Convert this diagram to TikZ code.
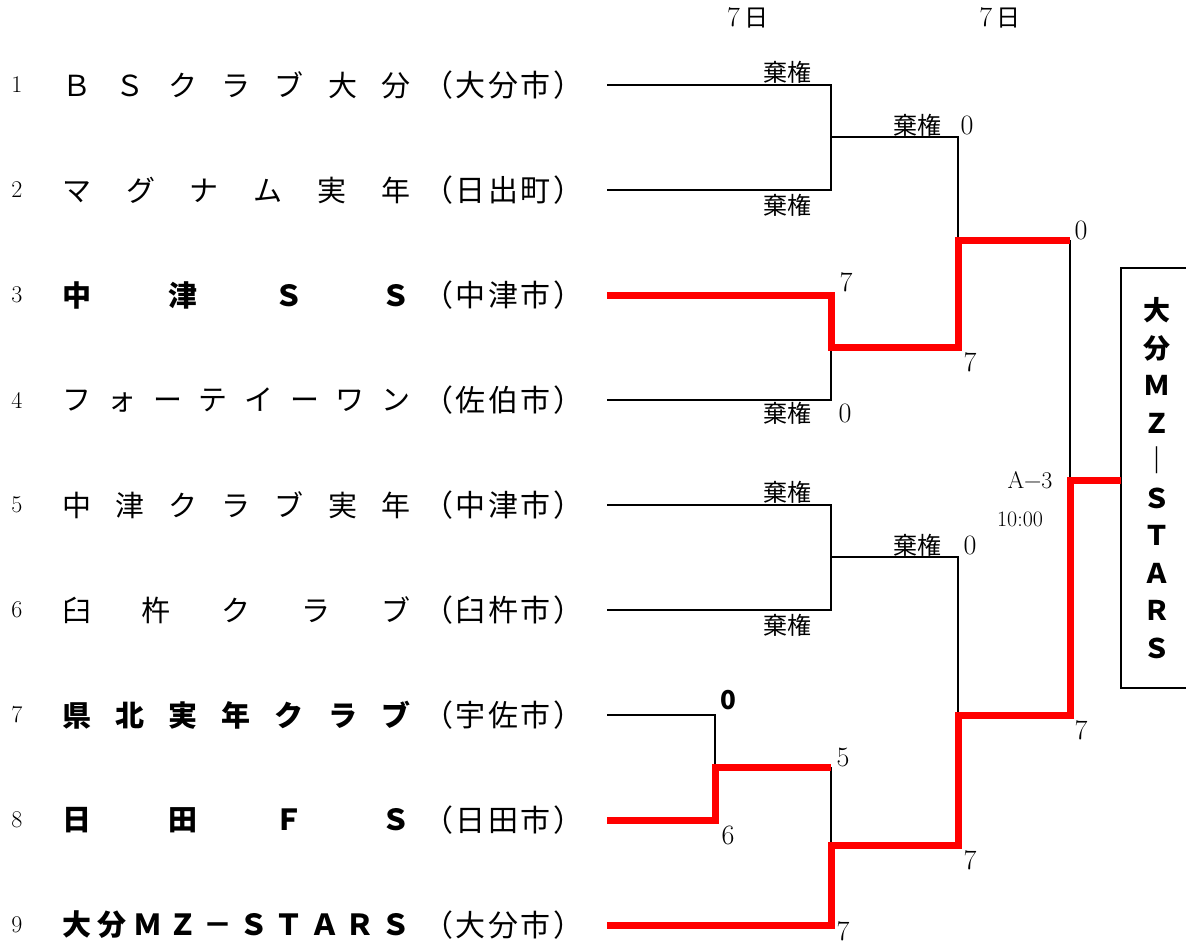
\documentclass[tikz,border=0pt]{standalone}
\usepackage{fontspec}
\newfontfamily\jp{Noto Sans CJK JP}
\usetikzlibrary{positioning}
\newcommand\spread[2][348pt]{\makebox[#1][s]{#2}}

\begin{document}
\begin{tikzpicture}[x=1pt,y=-1pt,
    bk/.style={line width=2.5pt},
    win/.style={line width=7pt,red},
    sc/.style={inner sep=0pt,font=\fontsize{28}{28}\selectfont},
    kk/.style={inner sep=0pt,font=\jp\fontsize{24}{24}\selectfont},
    teamtxt/.style={inner sep=0pt,anchor=west,font=\jp\fontsize{29}{29}\selectfont}
]
    \useasboundingbox (0,0) rectangle (1186,946);
    \foreach \n/\tname/\city/\wt in {
        1/{Ｂ\hfill Ｓ\hfill ク\hfill ラ\hfill ブ\hfill 大\hfill 分}/{大\hfill 分\hfill 市}/\mdseries,
        2/{マ\hfill グ\hfill ナ\hfill ム\hfill 実\hfill 年}/{日\hfill 出\hfill 町}/\mdseries,
        3/{中\hfill 津\hfill Ｓ\hfill Ｓ}/{中\hfill 津\hfill 市}/\bfseries,
        4/{フ\hfill ォ\hfill ー\hfill テ\hfill イ\hfill ー\hfill ワ\hfill ン}/{佐\hfill 伯\hfill 市}/\mdseries,
        5/{中\hfill 津\hfill ク\hfill ラ\hfill ブ\hfill 実\hfill 年}/{中\hfill 津\hfill 市}/\mdseries,
        6/{臼\hfill 杵\hfill ク\hfill ラ\hfill ブ}/{臼\hfill 杵\hfill 市}/\mdseries,
        7/{県\hfill 北\hfill 実\hfill 年\hfill ク\hfill ラ\hfill ブ}/{宇\hfill 佐\hfill 市}/\bfseries,
        8/{日\hfill 田\hfill Ｆ\hfill Ｓ}/{日\hfill 田\hfill 市}/\bfseries,
        9/{大\hfill 分\hfill Ｍ\hfill Ｚ\hfill －\hfill Ｓ\hfill Ｔ\hfill Ａ\hfill Ｒ\hfill Ｓ}/{大\hfill 分\hfill 市}/\bfseries}{
        \node[inner sep=0pt,font=\fontsize{24}{24}\selectfont] (no\n) at (17,{85+(\n-1)*105}) {\n};
        \node[teamtxt] (team\n) at (62,{85+(\n-1)*105}) {\wt\spread{\tname}};
        \node[teamtxt,font=\jp\fontsize{30}{30}\selectfont] (city\n) at (423,{85+(\n-1)*105})
            {\spread[160pt]{（\hfill\city\hfill）}};
        \coordinate (t\n) at (607,{85+(\n-1)*105});
    }
    \coordinate (m12) at (831,137);
    \coordinate (m34) at (831,347);
    \coordinate (m56) at (831,557);
    \coordinate (m78) at (715,767);
    \coordinate (m789) at (831,845);
    \coordinate (s1) at (958,240);
    \coordinate (s2) at (958,715);
    \coordinate (fin) at (1070,480);
    % champion
    \draw[bk] (1186,268) -| (1121,688) -- (1186,688);
    \node[align=center,inner sep=0pt,font=\jp\bfseries\fontsize{27}{37.5}\selectfont] (champ) at (1157,478)
        {大\\分\\Ｍ\\Ｚ\\｜\\Ｓ\\Ｔ\\Ａ\\Ｒ\\Ｓ};
    % losers
    \draw[bk] (t1) -| (m12) |- (t2);
    \draw[bk] (m12) -| (s1);
    \draw[bk] (m34) |- (t4);
    \draw[bk] (t5) -| (m56) |- (t6);
    \draw[bk] (m56) -| (s2);
    \draw[bk] (t7) -| (m78);
    \draw[bk] (m78 -| m789) -- (m789);
    \draw[bk] (s1 -| fin) -- (fin);
    % winners
    \draw[win] (t3) -| (m34) -| (s1) -- (s1 -| fin);
    \draw[win] (t8) -| (m78) -- (m78 -| m789);
    \draw[win] (t9) -| (m789) -| (s2) -| (fin) -- (1121,480);
    % dates and scores
    \node[kk] (d1) at (748,18) {\rmfamily\fontsize{28}{28}\selectfont 7\,\jp\fontsize{24}{24}\selectfont 日};
    \node[kk] (d2) at (1000,18) {\rmfamily\fontsize{28}{28}\selectfont 7\,\jp\fontsize{24}{24}\selectfont 日};
    \foreach \x/\y in {787/72,787/205,917/125,787/413,787/492,917/545,787/625}
        \node[kk] at (\x,\y) {棄権};
    \foreach \x/\y/\s in {967/125/0,1081/230/0,846/282/7,970/362/7,845/413/0,970/545/0,
        1081/730/7,843/757/5,728/835/6,970/860/7,843/931/7}
        \node[sc] at (\x,\y) {\s};
    \node[sc,font=\jp\bfseries\fontsize{26}{26}\selectfont] (r78) at (728,700) {0};
    \node[sc,font=\fontsize{24}{24}\selectfont] (gm) at (1030,480) {A−3};
    \node[sc,font=\fontsize{22}{22}\selectfont] (tm) at (1020,519) {10:00};
\end{tikzpicture}
\end{document}
